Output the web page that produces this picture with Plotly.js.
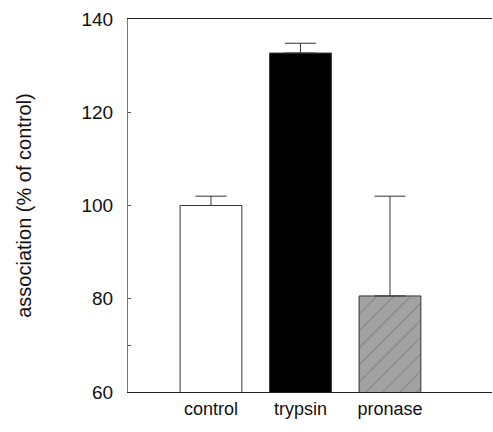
<!DOCTYPE html>
<html>
<head>
<meta charset="utf-8">
<script src="https://cdn.plot.ly/plotly-3.0.1.min.js"></script>
<style>html,body{margin:0;padding:0;background:#fff;}#chart{width:493px;height:432px;}</style>
</head>
<body>
<div id="chart"></div>
<script>
var categories = ["control", "trypsin", "pronase"];
var values = [100, 132.7, 80.6];
var errorsUp = [2.0, 2.1, 21.4];
var errorsDown = [0, 0, 0];
var yTickVals = [60, 80, 100, 120, 140];

var trace = {
  type: "bar",
  x: categories,
  y: values,
  width: 0.69,
  marker: {
    color: ["#ffffff", "#000000", "#a2a2a2"],
    line: {color: "#333333", width: 1},
    pattern: {shape: ["", "", "/"], fillmode: "overlay", fgcolor: "#c0c0c0", size: 12, solidity: 0.08}
  },
  error_y: {
    type: "data", symmetric: false, array: errorsUp, arrayminus: errorsDown,
    color: "#333333", thickness: 1, width: 15.5
  },
  hoverinfo: "none"
};

var layout = {
  width: 493, height: 432,
  margin: {l: 128, r: 1, t: 19, b: 40},
  paper_bgcolor: "#ffffff", plot_bgcolor: "#ffffff",
  showlegend: false,
  font: {family: "Liberation Sans, Arial, sans-serif", color: "#111111", size: 18},
  xaxis: {
    type: "category",
    range: [-0.927, 3.14],
    showline: true, linecolor: "#222222", linewidth: 1, mirror: true,
    ticks: "", showgrid: false, zeroline: false,
    tickfont: {size: 18}
  },
  yaxis: {
    range: [60, 140],
    tickvals: yTickVals,
    showline: true, linecolor: "#777777", linewidth: 1,
    ticks: "inside", ticklen: 3, tickcolor: "#555555",
    minor: {tickvals: [70], ticks: "inside", ticklen: 3, tickcolor: "#555555"},
    showgrid: false, zeroline: false,
    tickfont: {size: 19},
    ticklabelstandoff: 10,
    title: {text: "association (% of control)", font: {size: 20}, standoff: 44}
  }
};

Plotly.newPlot("chart", [trace], layout, {staticPlot: true, displayModeBar: false});
</script>
</body>
</html>
